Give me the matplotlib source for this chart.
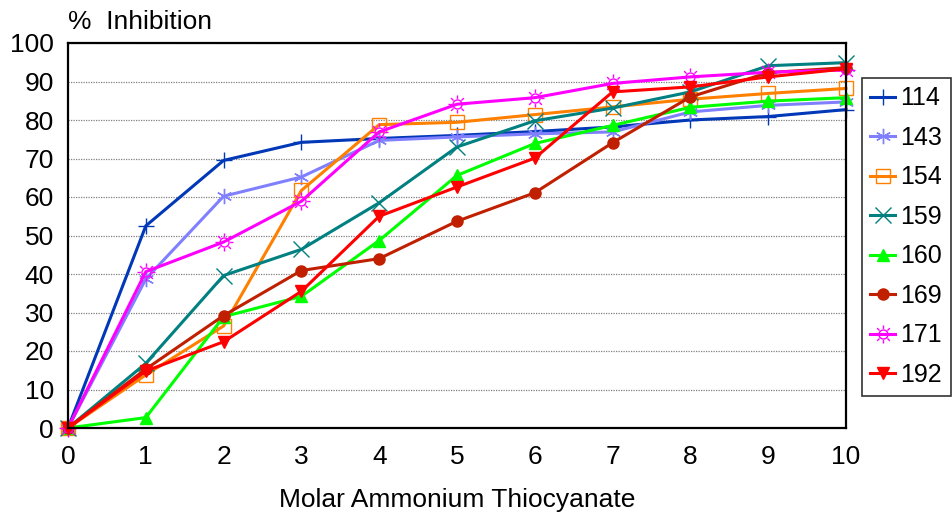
import numpy as np
import matplotlib
matplotlib.use("Agg")
from matplotlib import pyplot as plt
from matplotlib.path import Path

plt.rcParams['font.family'] = ['Liberation Sans', 'DejaVu Sans']

# molar ammonium thiocyanate
molar = [0, 1, 2, 3, 4, 5, 6, 7, 8, 9, 10]

s114 = [0, 52.5, 69.5, 74.2, 75.2, 76.0, 77.0, 78.2, 80.0, 80.9, 82.7]
s143 = [0, 38.7, 60.2, 65.2, 74.7, 75.6, 76.4, 76.9, 82.1, 83.8, 84.7]
s154 = [0, 13.8, 26.5, 61.7, 78.8, 79.4, 81.4, 83.4, 85.4, 86.9, 88.2]
s159 = [0, 16.8, 39.6, 46.4, 58.5, 73.0, 79.8, 83.1, 87.3, 94.1, 94.9]
s160 = [0, 2.7, 28.9, 34.2, 48.7, 65.6, 73.9, 78.6, 83.3, 84.9, 85.8]
s169 = [0, 15.3, 29.2, 40.9, 44.0, 53.7, 61.1, 74.1, 86.0, 92.3, 93.6]
s171 = [0, 40.6, 48.3, 58.9, 76.9, 84.1, 85.8, 89.5, 91.2, 92.4, 93.0]
s192 = [0, 14.8, 22.4, 35.5, 55.0, 62.6, 70.1, 87.3, 88.6, 91.2, 93.3]

labels = ['114', '143', '154', '159', '160', '169', '171', '192']
series = [s114, s143, s154, s159, s160, s169, s171, s192]
colors = ['#0038B8', '#8080FF', '#FF8000', '#008080', '#00FF00', '#C02000', '#FF00FF', '#FF0000']

# sun marker: open circle with 8 rays
parts = [Path.circle((0, 0), 0.5)]
for a in np.arange(8) * np.pi / 4:
    parts.append(Path([(0.62 * np.cos(a), 0.62 * np.sin(a)), (np.cos(a), np.sin(a))],
                      [Path.MOVETO, Path.LINETO]))
sun = Path.make_compound_path(*parts)

markers = ['+', (6, 2, 0), 's', 'x', '^', 'o', sun, 'v']
msizes = [12, 11, 10, 11, 9, 8, 13, 9]

fig = plt.figure(figsize=(9.53, 5.15), dpi=100)
ax = fig.add_axes([68 / 953, 1 - 428 / 515, (846 - 68) / 953, (428 - 43) / 515])

for vals, lab, c, m, ms in zip(series, labels, colors, markers, msizes):
    filled = isinstance(m, str) and m in ('^', 'o', 'v')
    ax.plot(molar, vals, color=c, lw=2.2, marker=m, markersize=ms,
            markerfacecolor=c if filled else 'none', markeredgecolor=c,
            markeredgewidth=1.0, label=lab, clip_on=False)

ax.set_xlim(0, 10)
ax.set_ylim(0, 100)
ax.set_xticks(range(0, 11))
ax.set_yticks(range(0, 101, 10))
ax.tick_params(labelsize=19, length=0)
ax.tick_params(axis='x', pad=12)
ax.tick_params(axis='y', pad=10)
ax.yaxis.grid(True, linestyle=(0, (1, 1)), color='#808080', lw=0.9)
for sp in ax.spines.values():
    sp.set_linewidth(1.6)

ax.set_xlabel('Molar Ammonium Thiocyanate', fontsize=19, labelpad=14)
fig.text(68 / 953, 1 - 22 / 515, '%  Inhibition', fontsize=19, va='center', ha='left')

leg = ax.legend(loc='center left', bbox_to_anchor=(1.02, 0.497), fontsize=18,
                frameon=True, fancybox=False, edgecolor='black',
                handlelength=1.0, handletextpad=0.2, labelspacing=0.62,
                borderpad=0.35, borderaxespad=0)
leg.get_frame().set_linewidth(1.2)

fig.savefig('out.png', dpi=100)
